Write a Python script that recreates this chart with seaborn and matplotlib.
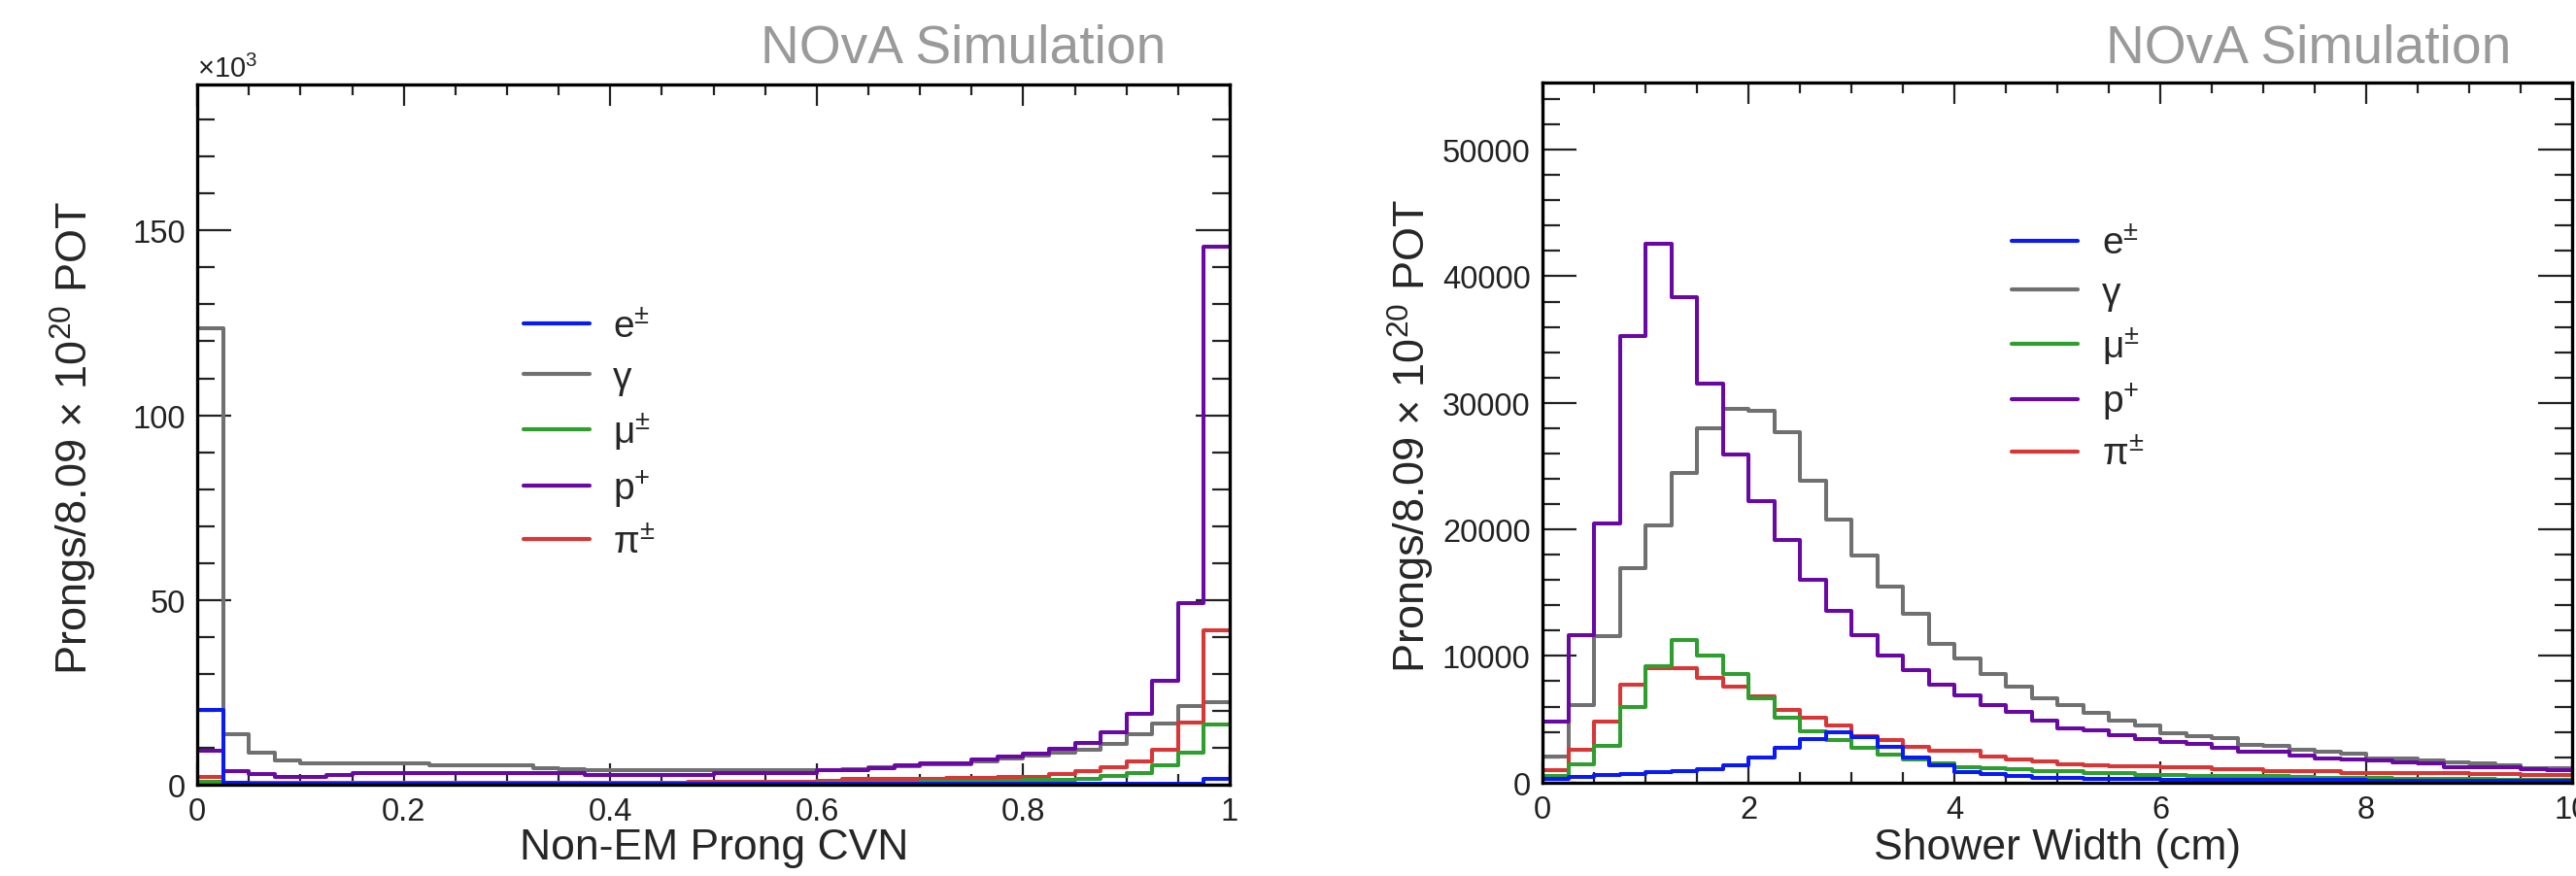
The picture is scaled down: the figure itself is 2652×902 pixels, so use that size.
import numpy as np
import pandas as pd
import matplotlib
matplotlib.use("Agg")
import matplotlib.pyplot as plt
from matplotlib.lines import Line2D
from matplotlib.ticker import MultipleLocator, FuncFormatter
import seaborn as sns

# particle species shown in both panels
labels = ["e$^{\\pm}$", "γ", "μ$^{\\pm}$", "p$^{+}$", "π$^{\\pm}$"]
colors = ["#0a1af5", "#707070", "#2e9e2e", "#6a08a6", "#d93636"]

# left panel: Non-EM prong CVN, 40 bins on [0, 1], values in units of 10^3
cvn_range = (0, 1)
cvn_e = [20.3, 0.4, 0.35, 0.3, 0.3, 0.3, 0.3, 0.3, 0.3, 0.3, 0.3, 0.3, 0.3, 0.3, 0.3, 0.3, 0.3, 0.3, 0.3, 0.3,
         0.3, 0.3, 0.3, 0.3, 0.3, 0.3, 0.3, 0.3, 0.3, 0.3, 0.3, 0.3, 0.3, 0.3, 0.3, 0.3, 0.3, 0.3, 0.3, 1.6]
cvn_gamma = [123.5, 13.7, 8.7, 6.6, 5.9, 5.9, 5.9, 5.9, 5.9, 5.2, 5.2, 5.2, 5.2, 4.5, 4.1, 3.9, 3.9, 3.9, 3.9, 3.9,
             4.0, 4.0, 4.0, 4.0, 4.0, 4.2, 4.6, 5.0, 5.6, 5.6, 6.3, 7.2, 8.0, 8.6, 9.5, 11.0, 13.6, 16.5, 21.2, 22.3]
cvn_mu = [0.9, 0.3, 0.3, 0.3, 0.3, 0.3, 0.3, 0.3, 0.3, 0.3, 0.3, 0.3, 0.3, 0.3, 0.3, 0.3, 0.3, 0.3, 0.3, 0.3,
          0.3, 0.3, 0.3, 0.35, 0.4, 0.4, 0.5, 0.6, 0.7, 0.8, 0.9, 1.0, 1.2, 1.4, 1.7, 2.4, 3.2, 5.2, 8.7, 16.4]
cvn_p = [9.1, 3.7, 2.8, 2.2, 2.2, 2.7, 3.2, 3.2, 3.2, 3.2, 3.2, 3.2, 3.2, 3.2, 3.2, 2.5, 2.5, 2.5, 2.5, 2.5,
         3.2, 3.2, 3.2, 3.2, 3.9, 3.9, 4.5, 5.2, 5.9, 5.9, 6.8, 7.6, 8.5, 9.8, 11.3, 14.2, 19.2, 28.0, 49.2, 145.5]
cvn_pi = [2.1, 0.4, 0.4, 0.4, 0.4, 0.4, 0.4, 0.4, 0.5, 0.5, 0.5, 0.5, 0.5, 0.5, 0.5, 0.6, 0.6, 0.6, 0.6, 0.7,
          0.7, 0.8, 0.8, 0.9, 1.0, 1.5, 1.5, 1.5, 1.5, 1.75, 1.75, 2.2, 2.2, 3.0, 3.8, 4.8, 6.3, 9.5, 16.8, 41.8]

# right panel: shower width (cm), 40 bins on [0, 10]
width_range = (0, 10)
width_e = [290, 410, 590, 700, 820, 880, 1030, 1380, 2000, 2730, 3460, 3950, 3560, 2830, 1990, 1340, 820, 640, 515, 385,
           385, 260, 260, 250, 240, 230, 220, 210, 200, 200, 190, 180, 170, 170, 160, 150, 150, 140, 130, 120]
width_gamma = [2050, 6150, 11530, 16920, 20300, 24430, 27950, 29560, 29400, 27690, 23840, 20760, 17950, 15500, 13330,
               10950, 9820, 8590, 7570, 6670, 6150, 5510, 4920, 4490, 3900, 3690, 3500, 3000, 2870, 2560, 2430, 2250,
               1920, 1920, 1740, 1580, 1540, 1360, 1150, 1150]
width_mu = [530, 1410, 2870, 5950, 9200, 11250, 10060, 8590, 6660, 5130, 4070, 3330, 2730, 2180, 1800, 1540, 1230, 1100,
            1030, 900, 900, 720, 720, 570, 570, 520, 510, 500, 480, 420, 390, 360, 330, 310, 290, 270, 250, 230, 210, 200]
width_p = [4790, 11610, 20460, 35250, 42600, 38370, 31480, 25950, 22250, 19180, 16030, 13590, 11610, 10070, 8850, 7740,
           6870, 6100, 5570, 4920, 4310, 4150, 3770, 3460, 3210, 3030, 2770, 2430, 2430, 2100, 1920, 1790, 1740, 1590,
           1540, 1230, 1230, 1230, 1080, 980]
width_pi = [990, 2590, 4800, 7720, 9070, 9040, 8300, 7560, 6820, 5770, 5100, 4490, 3650, 3330, 2850, 2490, 2490, 2050,
            1850, 1670, 1460, 1340, 1280, 1280, 1230, 1230, 1080, 1030, 900, 900, 880, 780, 770, 760, 760, 740, 650,
            640, 620, 560]

sns.set_style("ticks")
plt.rcParams["font.family"] = ["Liberation Sans", "DejaVu Sans"]
plt.rcParams["mathtext.fontset"] = "custom"
plt.rcParams["mathtext.rm"] = "Liberation Sans"
plt.rcParams["mathtext.it"] = "Liberation Sans:italic"
plt.rcParams["mathtext.bf"] = "Liberation Sans:bold"

fig = plt.figure(figsize=(26.52, 9.03), dpi=100)
ax1 = fig.add_axes([0.0766, 0.1041, 0.4008, 0.7984])
ax2 = fig.add_axes([0.5988, 0.1066, 0.3997, 0.7981])

draw_order = [1, 4, 2, 3, 0]  # grey underneath, electrons on top


def draw(ax, brange, series):
    n = len(series[0])
    edges = np.linspace(brange[0], brange[1], n + 1)
    centers = (edges[:-1] + edges[1:]) / 2
    for i in draw_order:
        df = pd.DataFrame({"x": centers, "w": series[i]})
        sns.histplot(data=df, x="x", weights="w", bins=n, binrange=brange, element="step", fill=False,
                     color=colors[i], linewidth=2.9, ax=ax)


def style(ax, xmaj, xmin, ymaj, ymin):
    ax.xaxis.set_major_locator(MultipleLocator(xmaj))
    ax.xaxis.set_minor_locator(MultipleLocator(xmin))
    ax.yaxis.set_major_locator(MultipleLocator(ymaj))
    ax.yaxis.set_minor_locator(MultipleLocator(ymin))
    ax.xaxis.set_major_formatter(FuncFormatter(lambda v, p: "%g" % v))
    ax.yaxis.set_major_formatter(FuncFormatter(lambda v, p: "%g" % v))
    ax.tick_params(which="both", direction="in", top=True, right=True, width=1.6, color="#222222",
                   labelsize=23.5, labelcolor="#222222")
    ax.tick_params(axis="x", which="major", length=16, pad=9)
    ax.tick_params(axis="x", which="minor", length=8)
    ax.tick_params(axis="y", which="major", length=25, pad=9)
    ax.tick_params(axis="y", which="minor", length=13)
    for s in ax.spines.values():
        s.set_linewidth(2.4)
        s.set_color("black")
    ax.set_xlabel("")
    ax.set_ylabel("")


draw(ax1, cvn_range, [cvn_e, cvn_gamma, cvn_mu, cvn_p, cvn_pi])
ax1.set_xlim(cvn_range)
ax1.set_ylim(0, 189.5)
style(ax1, 0.2, 0.05, 50, 10)

draw(ax2, width_range, [width_e, width_gamma, width_mu, width_p, width_pi])
ax2.set_xlim(width_range)
ax2.set_ylim(0, 55300)
style(ax2, 2, 0.5, 10000, 2000)

handles = [Line2D([], [], color=c, linewidth=3.0) for c in colors]
for ax, anchor, spacing in [(ax1, (0.316, 0.679), 0.40), (ax2, (0.456, 0.795), 0.37)]:
    ax.legend(handles, labels, loc="upper left", bbox_to_anchor=anchor, frameon=False, fontsize=28,
              handlelength=1.75, handletextpad=0.62, labelspacing=spacing, borderpad=0, borderaxespad=0)

ylab = "Prongs/8.09 × 10$^{20}$ POT"
fig.text(0.0287, 0.501, ylab, rotation=90, ha="center", va="center", fontsize=32.5)
fig.text(0.548, 0.503, ylab, rotation=90, ha="center", va="center", fontsize=32.5)
fig.text(0.2772, 0.02, "Non-EM Prong CVN", ha="center", va="baseline", fontsize=32)
fig.text(0.7985, 0.02, "Shower Width (cm)", ha="center", va="baseline", fontsize=32)
fig.text(0.0766, 0.905, "×10$^{3}$", ha="left", va="bottom", fontsize=21, color="#222222")

fig.text(0.4525, 0.9286, "NOvA Simulation", ha="right", va="baseline", fontsize=39.7, color="#9a9a9a")
fig.text(0.9747, 0.9286, "NOvA Simulation", ha="right", va="baseline", fontsize=39.7, color="#9a9a9a")

fig.savefig("out.png", dpi=100)
